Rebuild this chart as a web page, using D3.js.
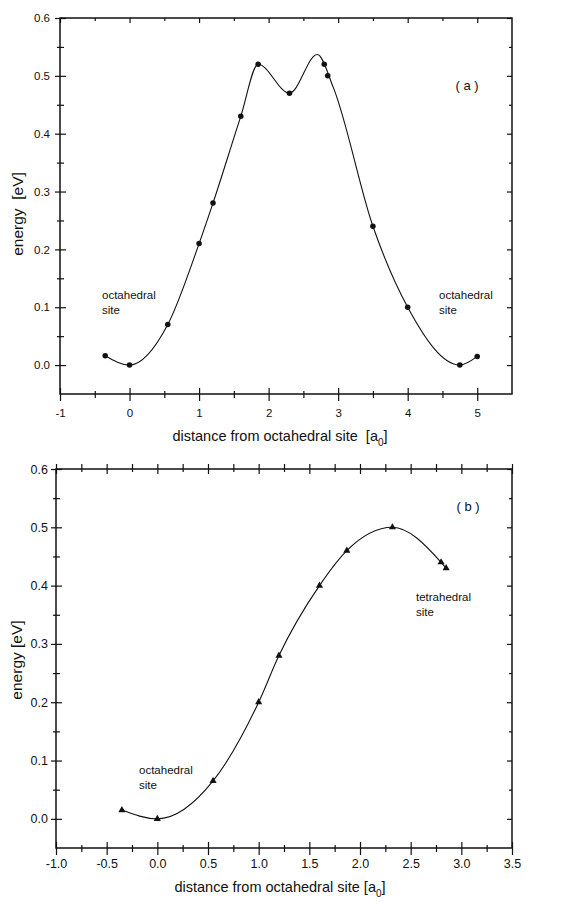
<!DOCTYPE html>
<html>
<head>
<meta charset="utf-8">
<script src="https://cdn.jsdelivr.net/npm/d3@7"></script>
<style>
  body { margin: 0; background: #fff; }
  svg text { font-family: "Liberation Sans", Arial, sans-serif; fill: #111; }
  .axis path { display: none; }
  .axis line { stroke: #111; stroke-width: 1.2; }
</style>
</head>
<body>
<svg id="fig" width="566" height="905"></svg>
<script>
// panel (a): calculated points and the fitted curve through them
const distA = [-0.35, 0, 0.55, 1.0, 1.2, 1.6, 1.85, 2.3, 2.8, 2.85, 3.5, 4.0, 4.75, 5.0];
const energyA = [0.016, 0, 0.07, 0.21, 0.28, 0.43, 0.52, 0.47, 0.52, 0.50, 0.24, 0.10, 0, 0.015];
const fitDistA = [-0.35, 0, 0.55, 1.0, 1.2, 1.6, 1.85, 2.3, 2.7, 2.93, 3.5, 4.0, 4.75, 5.0];
const fitEnergyA = [0.016, 0, 0.07, 0.21, 0.28, 0.43, 0.52, 0.47, 0.537, 0.48, 0.24, 0.10, 0, 0.015];

// panel (b)
const distB = [-0.35, 0, 0.55, 1.0, 1.2, 1.6, 1.87, 2.32, 2.8, 2.85];
const energyB = [0.015, 0, 0.065, 0.20, 0.28, 0.40, 0.46, 0.50, 0.44, 0.43];

const yTicks = [0, 0.1, 0.2, 0.3, 0.4, 0.5, 0.6];
const yMinor = [0.05, 0.15, 0.25, 0.35, 0.45, 0.55];
const xTicksA = [-1, 0, 1, 2, 3, 4, 5];
const xMinorA = [-0.5, 0.5, 1.5, 2.5, 3.5, 4.5];
const xTicksB = [-1.0, -0.5, 0.0, 0.5, 1.0, 1.5, 2.0, 2.5, 3.0, 3.5];
const xMinorB = [-0.75, -0.25, 0.25, 0.75, 1.25, 1.75, 2.25, 2.75, 3.25];

const svg = d3.select('#fig');
// plain hyphen for negative numbers, like the original
const fmt = f => v => d3.format(f)(v).replace('\u2212', '-');

function panel(cfg) {
  const x = d3.scaleLinear().domain(cfg.xDomain).range([cfg.left, cfg.right]);
  const y = d3.scaleLinear().domain([-0.05, 0.6]).range([cfg.bottom, cfg.top]);
  const g = svg.append('g');

  // frame
  g.append('rect')
    .attr('x', cfg.left).attr('y', cfg.top)
    .attr('width', cfg.right - cfg.left).attr('height', cfg.bottom - cfg.top)
    .attr('fill', 'none').attr('stroke', '#111').attr('stroke-width', 1.5);

  // left axis, ticks crossing the frame
  g.append('g').attr('class', 'axis').attr('transform', 'translate(' + cfg.left + ',0)')
    .call(d3.axisLeft(y).tickValues(yTicks).tickFormat(fmt('.1f')).tickSize(5).tickPadding(cfg.yPad))
    .selectAll('text').style('font-size', cfg.tickFont + 'px');
  g.append('g').attr('class', 'axis').attr('transform', 'translate(' + cfg.left + ',0)')
    .call(d3.axisRight(y).tickValues(yTicks).tickFormat('').tickSize(6));
  g.append('g').attr('class', 'axis').attr('transform', 'translate(' + (cfg.left - 3) + ',0)')
    .call(d3.axisRight(y).tickValues(yMinor).tickFormat('').tickSize(7));

  // right axis, inward ticks
  g.append('g').attr('class', 'axis').attr('transform', 'translate(' + cfg.right + ',0)')
    .call(d3.axisLeft(y).tickValues(yTicks).tickFormat('').tickSize(5));
  g.append('g').attr('class', 'axis').attr('transform', 'translate(' + cfg.right + ',0)')
    .call(d3.axisLeft(y).tickValues(yMinor).tickFormat('').tickSize(3));

  // bottom axis
  g.append('g').attr('class', 'axis').attr('transform', 'translate(0,' + cfg.bottom + ')')
    .call(d3.axisBottom(x).tickValues(cfg.xTicks).tickFormat(cfg.xFormat).tickSize(7).tickPadding(cfg.xPad))
    .selectAll('text').style('font-size', cfg.tickFont + 'px');
  g.append('g').attr('class', 'axis').attr('transform', 'translate(0,' + cfg.bottom + ')')
    .call(d3.axisTop(x).tickValues(cfg.xTicks).tickFormat('').tickSize(6));
  g.append('g').attr('class', 'axis').attr('transform', 'translate(0,' + (cfg.bottom - 3) + ')')
    .call(d3.axisBottom(x).tickValues(cfg.xMinor).tickFormat('').tickSize(7));

  // top axis
  g.append('g').attr('class', 'axis').attr('transform', 'translate(0,' + cfg.top + ')')
    .call(d3.axisBottom(x).tickValues(cfg.xTicks).tickFormat('').tickSize(5));
  g.append('g').attr('class', 'axis').attr('transform', 'translate(0,' + cfg.top + ')')
    .call(d3.axisBottom(x).tickValues(cfg.xMinor).tickFormat('').tickSize(3));
  if (cfg.topCross) {
    g.append('g').attr('class', 'axis').attr('transform', 'translate(0,' + cfg.top + ')')
      .call(d3.axisTop(x).tickValues(cfg.xTicks.concat(cfg.xMinor)).tickFormat('').tickSize(5));
  }

  // fitted curve
  const line = d3.line()
    .x(d => x(d[0]))
    .y(d => y(d[1]))
    .curve(d3.curveMonotoneX);
  g.append('path')
    .attr('d', line(d3.zip(cfg.fitX, cfg.fitE)))
    .attr('fill', 'none').attr('stroke', '#111').attr('stroke-width', 1.1);

  // markers
  const sym = d3.symbol().type(cfg.symbol).size(cfg.symSize);
  g.selectAll('path.pt')
    .data(d3.zip(cfg.ptX, cfg.ptE))
    .enter().append('path')
    .attr('class', 'pt')
    .attr('transform', d => 'translate(' + x(d[0]) + ',' + y(d[1]) + ')')
    .attr('d', sym)
    .attr('fill', '#111');

  // axis titles
  const xt = g.append('text')
    .attr('x', cfg.xTitleX).attr('y', cfg.xTitleY)
    .attr('text-anchor', 'middle')
    .style('font-size', '14.5px');
  xt.append('tspan').text(cfg.xTitle);
  xt.append('tspan').attr('dy', 5).style('font-size', '10px').text('0');
  xt.append('tspan').attr('dy', -5).text(']');

  g.append('text')
    .attr('transform', 'translate(' + cfg.yTitleX + ',' + cfg.yTitleY + ') rotate(-90)')
    .attr('text-anchor', 'middle')
    .style('font-size', '15.5px')
    .text(cfg.yTitle);

  // annotations
  cfg.notes.forEach(n => {
    const t = g.append('text').attr('x', n.x).attr('y', n.y).style('font-size', '11.5px');
    n.lines.forEach((s, i) => t.append('tspan').attr('x', n.x).attr('dy', i ? 15 : 0).text(s));
  });
  g.append('text')
    .attr('x', cfg.tagX).attr('y', cfg.tagY)
    .attr('text-anchor', 'middle')
    .style('font-size', '13px')
    .text(cfg.tag);
}

panel({
  left: 60, right: 512, top: 18, bottom: 394,
  xDomain: [-1, 5.5], xTicks: xTicksA, xMinor: xMinorA, xFormat: fmt('d'),
  tickFont: 11.5, yPad: 5, xPad: 8, topCross: false,
  fitX: fitDistA, fitE: fitEnergyA, ptX: distA, ptE: energyA,
  symbol: d3.symbolCircle, symSize: 24,
  xTitle: 'distance from octahedral site\u00a0 [a', xTitleX: 280, xTitleY: 441,
  yTitle: 'energy\u00a0 [eV]', yTitleX: 23, yTitleY: 214,
  notes: [
    { x: 102, y: 299, lines: ['octahedral', 'site'] },
    { x: 439, y: 299, lines: ['octahedral', 'site'] }
  ],
  tag: '( a )', tagX: 467, tagY: 90
});

panel({
  left: 56, right: 512, top: 469, bottom: 848,
  xDomain: [-1.0, 3.5], xTicks: xTicksB, xMinor: xMinorB, xFormat: fmt('.1f'),
  tickFont: 12.5, yPad: 3, xPad: 4, topCross: true,
  fitX: distB, fitE: energyB, ptX: distB, ptE: energyB,
  symbol: d3.symbolTriangle, symSize: 22,
  xTitle: 'distance from octahedral site [a', xTitleX: 280, xTitleY: 892,
  yTitle: 'energy [eV]', yTitleX: 22, yTitleY: 660,
  notes: [
    { x: 139, y: 774, lines: ['octahedral', 'site'] },
    { x: 416, y: 601, lines: ['tetrahedral', 'site'] }
  ],
  tag: '( b )', tagX: 468, tagY: 511
});
</script>
</body>
</html>
